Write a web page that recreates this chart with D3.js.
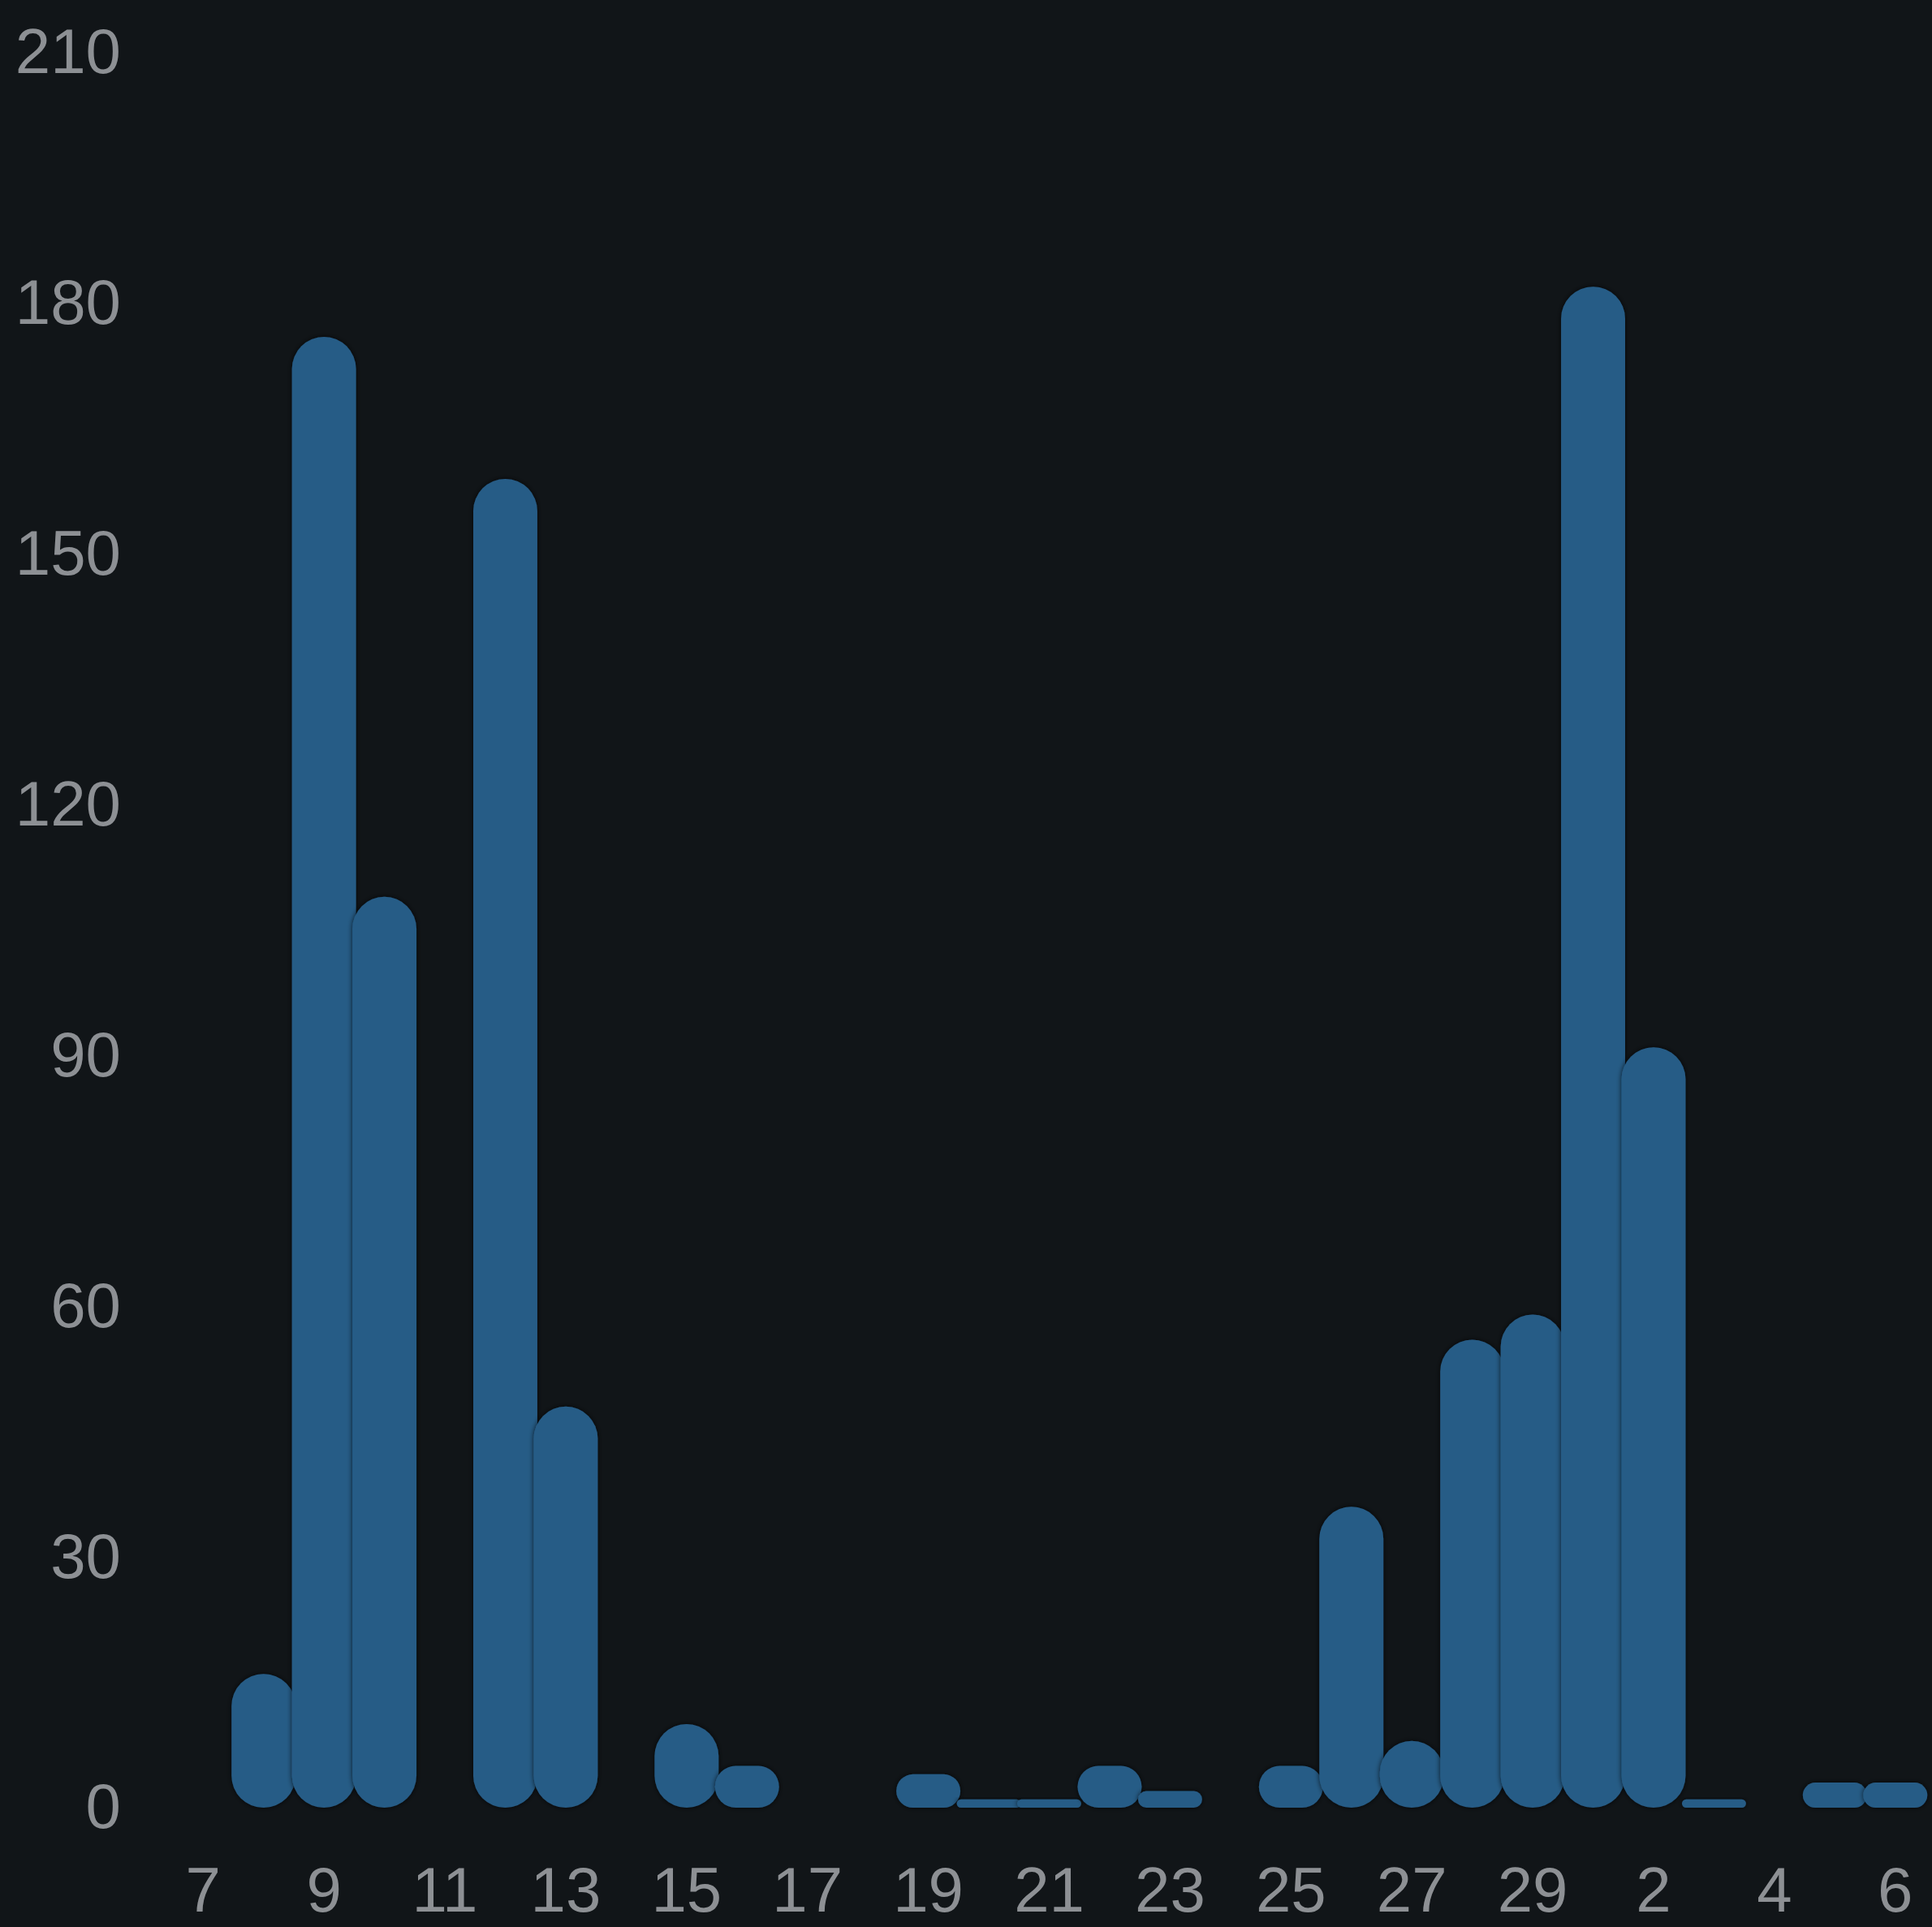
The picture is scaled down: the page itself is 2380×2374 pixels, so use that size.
<!DOCTYPE html>
<html>
<head>
<meta charset="utf-8">
<script src="https://cdn.jsdelivr.net/npm/d3@7"></script>
<style>
  html, body { margin: 0; padding: 0; background: #111518; }
  svg { display: block; }
  .tick text { font-family: "Liberation Sans", Arial, sans-serif; fill: #8d9094; }
</style>
</head>
<body>
<div id="chart"></div>
<script>
// days shown on the x axis (Feb 7 2024 .. Mar 6 2024)
const days = [
    '2024-02-07', '2024-02-08', '2024-02-09', '2024-02-10', '2024-02-11', '2024-02-12',
    '2024-02-13', '2024-02-14', '2024-02-15', '2024-02-16', '2024-02-17', '2024-02-18',
    '2024-02-19', '2024-02-20', '2024-02-21', '2024-02-22', '2024-02-23', '2024-02-24',
    '2024-02-25', '2024-02-26', '2024-02-27', '2024-02-28', '2024-02-29',
    '2024-03-01', '2024-03-02', '2024-03-03', '2024-03-04', '2024-03-05', '2024-03-06'
];
const counts = [
    0, 16, 176, 109, 0, 159,
    48, 0, 10, 5, 0, 0,
    4, 1, 1, 5, 2, 0,
    5, 36, 8, 56, 59,
    182, 91, 1, 0, 3, 3
];
const yTicks = [0, 30, 60, 90, 120, 150, 180, 210];
// only every other day gets a label
const xTickDays = days.filter((d, i) => i % 2 === 0);

const width = 2380;
const height = 2374;
const margin = { top: 65, right: 8, bottom: 147, left: 213 };

const svg = d3.select('#chart').append('svg')
    .attr('width', width)
    .attr('height', height);

svg.append('rect')
    .attr('width', width)
    .attr('height', height)
    .attr('fill', '#111518');

const defs = svg.append('defs');
defs.append('filter')
    .attr('id', 'halo')
    .attr('x', '-20%').attr('y', '-20%')
    .attr('width', '140%').attr('height', '140%')
  .append('feDropShadow')
    .attr('dx', 0)
    .attr('dy', 0)
    .attr('stdDeviation', 3)
    .attr('flood-color', '#000')
    .attr('flood-opacity', 0.75);

const x = d3.scaleBand()
    .domain(days)
    .range([margin.left, width - margin.right])
    .padding(0);

const y = d3.scaleLinear()
    .domain([0, 210])
    .range([height - margin.bottom, margin.top]);

const barW = x.bandwidth() * 1.06;

// bars, fully rounded at both ends
svg.append('g')
    .selectAll('rect')
    .data(days.map((d, i) => ({ day: d, value: counts[i] })).filter(d => d.value > 0))
  .enter().append('rect')
    .attr('x', d => x(d.day) + x.bandwidth() / 2 - barW / 2)
    .attr('width', barW)
    .attr('y', d => y(d.value))
    .attr('height', d => y(0) - y(d.value))
    .attr('rx', d => Math.min(barW / 2, (y(0) - y(d.value)) / 2))
    .attr('ry', d => Math.min(barW / 2, (y(0) - y(d.value)) / 2))
    .attr('fill', '#275c86')
    .attr('filter', 'url(#halo)');

// y axis
const yAxis = svg.append('g')
    .attr('transform', 'translate(149,0)')
    .call(d3.axisLeft(y).tickValues(yTicks).tickSize(0).tickPadding(0));
yAxis.select('.domain').remove();
yAxis.selectAll('.tick text')
    .attr('x', 0)
    .attr('dy', '0.32em')
    .style('font-size', '78px');

// x axis
const xAxis = svg.append('g')
    .attr('transform', 'translate(0,' + y(0) + ')')
    .call(d3.axisBottom(x)
        .tickValues(xTickDays)
        .tickSize(0)
        .tickFormat(d => String(+d.slice(8))));
xAxis.select('.domain').remove();
xAxis.selectAll('.tick text')
    .attr('y', 128)
    .attr('dy', 0)
    .style('font-size', '78px');
</script>
</body>
</html>
